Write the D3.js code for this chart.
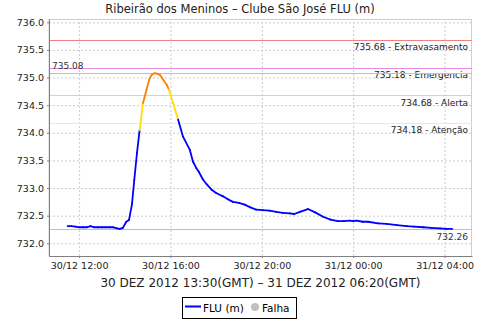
<!DOCTYPE html>
<html>
<head>
<meta charset="utf-8">
<script src="https://cdn.jsdelivr.net/npm/d3@7"></script>
<style>
body { margin: 0; background: #fff; }
text { font-family: "DejaVu Sans", sans-serif; }
</style>
</head>
<body>
<div id="chart"></div>
<script>
// readings, local time (GMT-2)
var times = [
	'2012-12-30 11:30','2012-12-30 11:40','2012-12-30 11:50','2012-12-30 12:00','2012-12-30 12:10','2012-12-30 12:20',
	'2012-12-30 12:30','2012-12-30 12:40','2012-12-30 12:50','2012-12-30 13:00','2012-12-30 13:10','2012-12-30 13:20',
	'2012-12-30 13:30','2012-12-30 13:40','2012-12-30 13:47','2012-12-30 13:55','2012-12-30 14:04','2012-12-30 14:11',
	'2012-12-30 14:19','2012-12-30 14:25','2012-12-30 14:32','2012-12-30 14:39','2012-12-30 14:48','2012-12-30 14:57',
	'2012-12-30 15:05','2012-12-30 15:11','2012-12-30 15:18','2012-12-30 15:25','2012-12-30 15:32','2012-12-30 15:41',
	'2012-12-30 15:50','2012-12-30 15:56','2012-12-30 16:07','2012-12-30 16:20','2012-12-30 16:33','2012-12-30 16:51',
	'2012-12-30 16:59','2012-12-30 17:08','2012-12-30 17:14','2012-12-30 17:25','2012-12-30 17:35','2012-12-30 17:48',
	'2012-12-30 18:00','2012-12-30 18:18','2012-12-30 18:30','2012-12-30 18:44','2012-12-30 19:00','2012-12-30 19:15',
	'2012-12-30 19:30','2012-12-30 19:45','2012-12-30 20:03','2012-12-30 20:20','2012-12-30 20:38','2012-12-30 20:55',
	'2012-12-30 21:13','2012-12-30 21:25','2012-12-30 21:40','2012-12-30 22:01','2012-12-30 22:20','2012-12-30 22:41',
	'2012-12-30 23:00','2012-12-30 23:20','2012-12-30 23:35','2012-12-30 23:51','2012-12-31 00:00','2012-12-31 00:09',
	'2012-12-31 00:25','2012-12-31 00:39','2012-12-31 01:05','2012-12-31 01:28','2012-12-31 01:55','2012-12-31 02:20',
	'2012-12-31 02:40','2012-12-31 03:04','2012-12-31 03:25','2012-12-31 03:48','2012-12-31 04:05','2012-12-31 04:20'
];
var levels = [
	732.31,732.31,732.30,732.29,732.29,732.29,
	732.31,732.29,732.29,732.29,732.29,732.29,
	732.29,732.27,732.26,732.28,732.39,732.42,
	732.71,733.15,733.63,734.05,734.54,734.78,
	734.98,735.05,735.08,735.07,735.05,734.96,
	734.87,734.78,734.54,734.24,733.93,733.69,
	733.48,733.36,733.30,733.16,733.07,732.97,
	732.91,732.85,732.80,732.75,732.73,732.70,
	732.65,732.61,732.60,732.59,732.57,732.55,
	732.54,732.53,732.57,732.62,732.56,732.48,
	732.43,732.40,732.40,732.41,732.40,732.41,
	732.39,732.39,732.36,732.35,732.33,732.31,
	732.30,732.29,732.28,732.27,732.26,732.26
];

var alertValues = [735.68, 735.18, 734.68, 734.18];
var alertNames = ['Extravasamento', 'Emergencia', 'Alerta', 'Atenção'];
var alertColors = ['#f08080', '#e98ae9', '#ffc890', '#fff080'];

var yTicks = [732.0, 732.5, 733.0, 733.5, 734.0, 734.5, 735.0, 735.5, 736.0];
var xTicks = ['2012-12-30 12:00', '2012-12-30 16:00', '2012-12-30 20:00', '2012-12-31 00:00', '2012-12-31 04:00'];
var legendNames = ['FLU (m)', 'Falha'];

var title = 'Ribeirão dos Meninos – Clube São José FLU (m)';
var subtitle = '30 DEZ 2012 13:30(GMT) – 31 DEZ 2012 06:20(GMT)';

var parse = d3.timeParse('%Y-%m-%d %H:%M');
var data = times.map(function(t, i){
	return {date: parse(t), value: levels[i]};
});

var width = 480, height = 320;
var plotLeft = 49, plotRight = 472, plotTop = 19, plotBottom = 256;

var svg = d3.select('#chart').append('svg')
	.attr('width', width)
	.attr('height', height)
	.style('display', 'block');

svg.append('rect').attr('width', width).attr('height', height).attr('fill', '#fff');

var x = d3.scaleTime()
	.domain([parse('2012-12-30 10:41'), parse('2012-12-31 05:12')])
	.range([plotLeft, plotRight]);
var y = d3.scaleLinear()
	.domain([731.77, 736.06])
	.range([plotBottom, plotTop]);

// gridlines
svg.append('g')
	.attr('transform', 'translate(0,' + plotBottom + ')')
	.call(d3.axisBottom(x).tickValues(xTicks.map(parse)).tickSize(-(plotBottom - plotTop)).tickFormat(''))
	.call(function(g){
		g.select('.domain').remove();
		g.selectAll('line').attr('stroke', '#cccccc').attr('stroke-dasharray', '2,2');
	});
svg.append('g')
	.attr('transform', 'translate(' + plotLeft + ',0)')
	.call(d3.axisLeft(y).tickValues(yTicks).tickSize(-(plotRight - plotLeft)).tickFormat(''))
	.call(function(g){
		g.select('.domain').remove();
		g.selectAll('line').attr('stroke', '#cccccc').attr('stroke-dasharray', '2,2');
	});

// plot outline
svg.append('rect')
	.attr('x', plotLeft).attr('y', plotTop + 0.5)
	.attr('width', plotRight - plotLeft - 0.5).attr('height', plotBottom - plotTop)
	.attr('fill', 'none').attr('stroke', '#b0b0b0').attr('stroke-width', 0.6);

// alert levels
var alerts = svg.selectAll('.alert')
	.data(alertValues)
	.enter().append('g')
	.attr('class', 'alert');
alerts.append('line')
	.attr('x1', plotLeft).attr('x2', plotRight)
	.attr('y1', function(d){ return Math.round(y(d)) + 0.5; })
	.attr('y2', function(d){ return Math.round(y(d)) + 0.5; })
	.attr('stroke', function(d, i){ return alertColors[i]; });
alerts.append('text')
	.attr('x', plotRight - 4)
	.attr('y', function(d){ return y(d) + 10.5; })
	.attr('text-anchor', 'end')
	.attr('font-size', 9)
	.attr('fill', '#222')
	.text(function(d, i){ return d.toFixed(2) + ' - ' + alertNames[i]; });

// max / min markers
var maxV = d3.max(levels), minV = d3.min(levels);
[maxV, minV].forEach(function(v){
	svg.append('line')
		.attr('x1', plotLeft).attr('x2', plotRight)
		.attr('y1', Math.round(y(v)) + 0.5).attr('y2', Math.round(y(v)) + 0.5)
		.attr('stroke', '#c0c0c0');
});
svg.append('text')
	.attr('x', plotLeft + 3).attr('y', y(maxV) - 4)
	.attr('font-size', 9).attr('fill', '#333')
	.text(maxV.toFixed(2));
svg.append('text')
	.attr('x', plotRight - 4).attr('y', y(minV) + 11.5)
	.attr('text-anchor', 'end')
	.attr('font-size', 9).attr('fill', '#333')
	.text(minV.toFixed(2));

// series, each segment coloured by the level it reaches
var band = d3.scaleThreshold()
	.domain([734.18, 734.68, 735.18])
	.range(['#0000ff', '#ffe000', '#ff8000', '#e98ae9']);

svg.append('g')
	.selectAll('line')
	.data(d3.pairs(data))
	.enter().append('line')
	.attr('x1', function(d){ return x(d[0].date); })
	.attr('y1', function(d){ return y(d[0].value); })
	.attr('x2', function(d){ return x(d[1].date); })
	.attr('y2', function(d){ return y(d[1].value); })
	.attr('stroke', function(d){ return band(d[1].value); })
	.attr('stroke-width', 1.8)
	.attr('stroke-linecap', 'round');

// axes
var yAxis = svg.append('g')
	.attr('transform', 'translate(' + plotLeft + ',0)')
	.call(d3.axisLeft(y).tickValues(yTicks).tickFormat(d3.format('.1f')).tickSize(2).tickSizeOuter(0).tickPadding(3));
var xAxis = svg.append('g')
	.attr('transform', 'translate(0,' + plotBottom + ')')
	.call(d3.axisBottom(x).tickValues(xTicks.map(parse)).tickFormat(d3.timeFormat('%d/%m %H:%M')).tickSize(2).tickSizeOuter(0).tickPadding(4));
[yAxis, xAxis].forEach(function(g){
	g.select('.domain').attr('stroke', '#808080');
	g.selectAll('.tick line').attr('stroke', '#808080');
	g.selectAll('text').attr('font-family', '"DejaVu Sans", sans-serif').attr('font-size', 9.5).attr('fill', '#222');
});

// titles
svg.append('text')
	.attr('x', 240).attr('y', 12.5)
	.attr('text-anchor', 'middle')
	.attr('font-size', 11.5)
	.attr('fill', '#222')
	.text(title);
svg.append('text')
	.attr('x', (plotLeft + plotRight) / 2).attr('y', 287)
	.attr('text-anchor', 'middle')
	.attr('font-size', 12)
	.attr('fill', '#222')
	.text(subtitle);

// legend
var legend = svg.append('g');
legend.append('rect')
	.attr('x', 182.5).attr('y', 297.5)
	.attr('width', 114).attr('height', 21)
	.attr('fill', '#fff').attr('stroke', '#000');
legend.append('line')
	.attr('x1', 185).attr('x2', 201).attr('y1', 306.5).attr('y2', 306.5)
	.attr('stroke', '#0000ff').attr('stroke-width', 2);
legend.append('text')
	.attr('x', 203).attr('y', 311.5)
	.attr('font-size', 10.5).attr('fill', '#000')
	.text(legendNames[0]);
legend.append('circle')
	.attr('cx', 255).attr('cy', 307).attr('r', 4)
	.attr('fill', '#c0c0c0');
legend.append('text')
	.attr('x', 262).attr('y', 311.5)
	.attr('font-size', 10.5).attr('fill', '#000')
	.text(legendNames[1]);
</script>
</body>
</html>
